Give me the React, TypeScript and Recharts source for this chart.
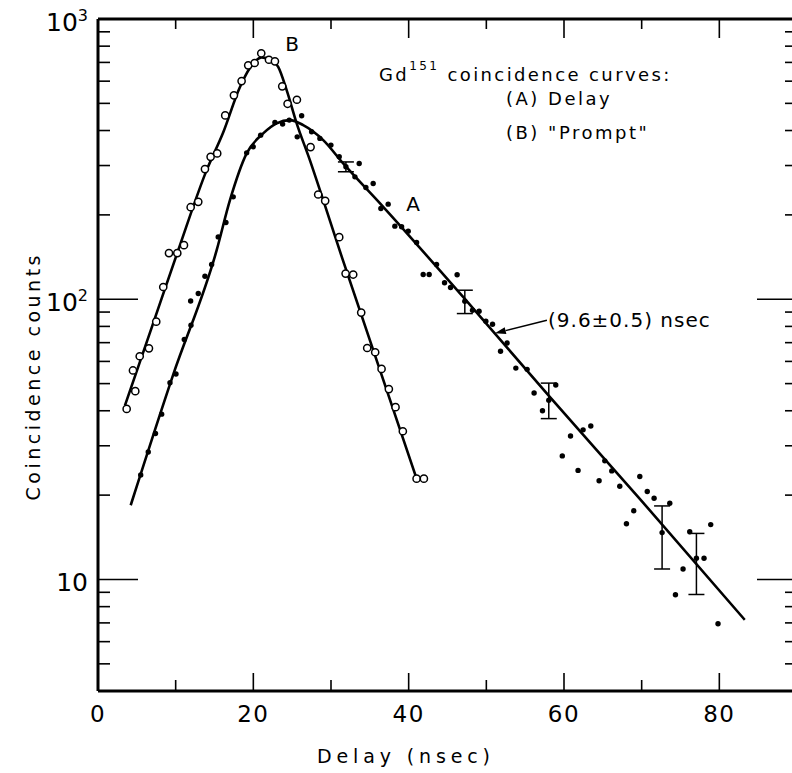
import React from 'react';
import {
  ComposedChart,
  Scatter,
  Line,
  XAxis,
  YAxis,
  ErrorBar,
  ReferenceLine,
  Customized
} from 'recharts';

const FONT = '"DejaVu Sans", sans-serif';

// curve B ("Prompt"), open circles
const promptX = [3.69, 4.80, 4.50, 5.37, 6.56, 7.50, 8.40, 9.14, 10.21, 11.07, 11.93, 12.91, 13.77, 14.50, 15.35, 16.38, 17.50, 18.49, 19.34, 20.17, 21.02, 22.01, 22.78, 23.72, 24.41, 25.61, 27.37, 28.35, 29.25, 31.06, 31.88, 32.86, 33.89, 34.66, 35.69, 36.51, 37.45, 38.31, 39.25, 41.02, 41.96];
const promptY = [40.6, 47.0, 55.7, 62.6, 66.8, 83.2, 110.6, 146, 146, 155.9, 213, 222.6, 291.3, 322.3, 331.4, 453, 534, 600.5, 683.4, 696.5, 754.5, 715.6, 706.3, 575, 498.3, 515, 349, 236.5, 224.4, 166.5, 123.5, 122.5, 89.6, 67.0, 64.7, 56.4, 47.8, 41.2, 33.8, 22.9, 22.9];

// curve A (Delay), filled dots
const delayX = [5.50, 6.47, 7.40, 8.20, 9.27, 10.04, 11.11, 11.97, 11.93, 12.91, 13.77, 14.63, 15.48, 16.47, 17.41, 19.14, 19.99, 20.94, 22.78, 23.77, 24.62, 25.65, 26.22, 27.50, 28.57, 29.99, 31.06, 33.63, 33.08, 34.49, 35.43, 36.42, 37.36, 38.22, 39.09, 39.94, 41.02, 41.87, 42.64, 43.59, 44.62, 45.39, 46.24, 48.22, 49.07, 49.94, 50.80, 51.83, 52.68, 53.80, 55.25, 56.15, 57.23, 58.94, 59.78, 60.84, 61.81, 62.46, 63.45, 64.52, 65.25, 66.15, 67.18, 68.04, 68.98, 69.76, 70.72, 71.60, 73.62, 74.35, 75.33, 76.19, 78.03, 78.89, 79.83];
const delayY = [23.6, 28.5, 33.2, 38.9, 50.4, 54.1, 71.8, 80.8, 98.6, 104.8, 120.8, 133.0, 166.9, 187.9, 231.9, 333, 349.9, 385.1, 427.6, 421.7, 435.8, 379.8, 451.5, 395.8, 374.9, 354.8, 322.3, 305.2, 273.4, 250.6, 258.9, 210.8, 218.4, 182.3, 181.5, 175, 159.4, 122.6, 122.6, 133.1, 114.5, 110.1, 122.3, 91.3, 90.6, 83.5, 81.4, 65.2, 69.8, 56.8, 56.2, 46.3, 40.0, 49.4, 27.6, 32.5, 24.5, 34.2, 35.3, 22.5, 26.5, 24.4, 21.5, 15.8, 17.6, 23.3, 20.6, 19.5, 18.7, 8.82, 10.9, 14.8, 11.9, 15.7, 6.95];

// curve A points with error bars
const errX = [31.92, 47.23, 58.04, 72.63, 77.05];
const errY = [297, 98.4, 43.6, 14.7, 11.9];
const errLo = [285, 88.9, 37.5, 10.9, 8.84];
const errHi = [309, 107.7, 50.2, 18.3, 14.6];

// drawn curves
const fitAX = [4.21, 9.65, 15.28, 16.99, 19.14, 21.27, 23.0, 24.71, 26.42, 29.0, 31.57, 36.72, 47.01, 58.17, 69.76, 83.27];
const fitAY = [18.4, 53.5, 149.6, 225.7, 331.4, 390.6, 424.1, 435.8, 418.2, 369.8, 305.2, 213.6, 101.9, 44.8, 19.4, 7.18];
const fitBX = [3.47, 7.0, 10.33, 13.99, 16.09, 18.28, 19.56, 21.07, 22.36, 23.2, 24.29, 25.57, 27.28, 29.0, 31.53, 41.02];
const fitBY = [41.8, 80.5, 149.6, 288.9, 391.6, 571.8, 668, 729.8, 713.8, 675.4, 557.8, 425.2, 313.6, 225.7, 137.8, 22.9];

const xTicks = [0, 10, 20, 30, 40, 50, 60, 70, 80];
const yTicks = [5, 6, 7, 8, 9, 10, 20, 30, 40, 50, 60, 70, 80, 90, 100, 200, 300, 400, 500, 600, 700, 800, 900, 1000];

// arrow for the slope label
const arrowFrom = { x: 57.8, y: 84.1 };
const arrowTo = { x: 51.1, y: 75.6 };

const promptData = promptX.map((x, i) => ({ x, y: promptY[i] }));
const delayData = delayX.map((x, i) => ({ x, y: delayY[i] }));
const errData = errX.map((x, i) => ({ x, y: errY[i], err: [errY[i] - errLo[i], errHi[i] - errY[i]] }));
const fitA = fitAX.map((x, i) => ({ x, y: fitAY[i] }));
const fitB = fitBX.map((x, i) => ({ x, y: fitBY[i] }));

const BottomTick = (p: any) => {
  const v = p.payload.value;
  const major = v % 20 === 0;
  return (
    <g>
      {v > 0 && <line x1={p.x} x2={p.x} y1={p.y} y2={p.y - (major ? 18 : 11)} stroke="#000" strokeWidth={1.6} />}
      {major && (
        <text x={p.x} y={p.y + 31} textAnchor="middle" fontSize={23} fontFamily={FONT} letterSpacing={1.5} fill="#000">
          {v}
        </text>
      )}
    </g>
  );
};

const TopTick = (p: any) => {
  const v = p.payload.value;
  if (v === 0) return <g />;
  const major = v % 20 === 0;
  return <line x1={p.x} x2={p.x} y1={p.y} y2={p.y + (major ? 19 : 10)} stroke="#000" strokeWidth={1.6} />;
};

const LeftTick = (p: any) => {
  const v = p.payload.value;
  const major = v === 10 || v === 100;
  const exp = v === 1000 ? '3' : v === 100 ? '2' : null;
  return (
    <g>
      {v < 1000 && <line x1={p.x} x2={p.x + (major ? 40 : 12)} y1={p.y} y2={p.y} stroke="#000" strokeWidth={1.6} />}
      {(v === 10 || v === 100 || v === 1000) && (
        <text x={p.x - 10} y={p.y + 12} textAnchor="end" fontSize={25} fontFamily={FONT} fill="#000">
          10
          {exp && <tspan fontSize={16} dy={-10}>{exp}</tspan>}
        </text>
      )}
    </g>
  );
};

const RightTick = (p: any) => {
  const v = p.payload.value;
  if (v === 1000) return <g />;
  const major = v === 10 || v === 100;
  return <line x1={p.x} x2={p.x - (major ? 40 : 12)} y1={p.y} y2={p.y} stroke="#000" strokeWidth={1.6} />;
};

const OpenCircle = (p: any) => (
  <circle cx={p.cx} cy={p.cy} r={3.6} fill="#fff" stroke="#000" strokeWidth={1.5} />
);

const Dot = (p: any) => <circle cx={p.cx} cy={p.cy} r={2.7} fill="#000" />;

const Arrow = (p: any) => {
  const { x1, y1, x2, y2 } = p;
  const a = Math.atan2(y2 - y1, x2 - x1);
  const L = 11;
  const W = 3.5;
  const bx = x2 - L * Math.cos(a);
  const by = y2 - L * Math.sin(a);
  const px = -Math.sin(a) * W;
  const py = Math.cos(a) * W;
  return (
    <g>
      <line x1={x1} y1={y1} x2={bx} y2={by} stroke="#000" strokeWidth={1.5} />
      <path d={`M${x2},${y2} L${bx + px},${by + py} L${bx - px},${by - py} Z`} fill="#000" />
    </g>
  );
};

const Annotations = () => (
  <g fontFamily={FONT} fill="#000">
    <text x={292} y={51} textAnchor="middle" fontSize={20}>B</text>
    <text x={413} y={211} textAnchor="middle" fontSize={20}>A</text>
    <text x={379} y={81} fontSize={18} letterSpacing={2.4}>
      Gd
      <tspan fontSize={12} dy={-11}>151</tspan>
      <tspan dy={11}> coincidence curves:</tspan>
    </text>
    <text x={506} y={105} fontSize={18} letterSpacing={2.5}>(A) Delay</text>
    <text x={506} y={139} fontSize={18} letterSpacing={2.5}>(B) "Prompt"</text>
    <text x={548} y={327} fontSize={20} letterSpacing={1}>(9.6±0.5) nsec</text>
    <text x={317} y={763} fontSize={19} textLength={173} lengthAdjust="spacing">Delay  (nsec)</text>
    <text
      x={40}
      y={378}
      fontSize={19}
      textAnchor="middle"
      transform="rotate(-90 40 378)"
      textLength={245}
      lengthAdjust="spacing"
    >
      Coincidence  counts
    </text>
  </g>
);

export default function App() {
  return (
    <div style={{ position: 'absolute', left: 0, top: 0, width: 792, height: 773, overflow: 'hidden', background: '#fff' }}>
      <ComposedChart width={800} height={773} margin={{ top: 18, right: 2, bottom: 81, left: 97 }}>
        <XAxis
          xAxisId="b"
          type="number"
          dataKey="x"
          domain={[0, 90]}
          ticks={xTicks}
          interval={0}
          allowDataOverflow
          height={1}
          tickSize={0}
          tickMargin={0}
          tickLine={false}
          axisLine={{ stroke: '#000', strokeWidth: 3 }}
          tick={BottomTick}
        />
        <XAxis
          xAxisId="t"
          orientation="top"
          type="number"
          dataKey="x"
          domain={[0, 90]}
          ticks={xTicks}
          interval={0}
          allowDataOverflow
          height={1}
          tickSize={0}
          tickMargin={0}
          tickLine={false}
          axisLine={{ stroke: '#000', strokeWidth: 3 }}
          tick={TopTick}
        />
        <YAxis
          yAxisId="l"
          type="number"
          dataKey="y"
          scale="log"
          domain={[4, 1000]}
          ticks={yTicks}
          interval={0}
          allowDataOverflow
          width={1}
          tickSize={0}
          tickMargin={0}
          tickLine={false}
          axisLine={{ stroke: '#000', strokeWidth: 3 }}
          tick={LeftTick}
        />
        <YAxis
          yAxisId="r"
          orientation="right"
          type="number"
          dataKey="y"
          scale="log"
          domain={[4, 1000]}
          ticks={yTicks}
          interval={0}
          allowDataOverflow
          width={1}
          tickSize={0}
          tickMargin={0}
          tickLine={false}
          axisLine={{ stroke: '#000', strokeWidth: 2 }}
          tick={RightTick}
        />
        <Line
          xAxisId="b"
          yAxisId="l"
          data={fitB}
          dataKey="y"
          type="monotone"
          stroke="#000"
          strokeWidth={2.6}
          dot={false}
          activeDot={false}
          isAnimationActive={false}
        />
        <Line
          xAxisId="b"
          yAxisId="l"
          data={fitA}
          dataKey="y"
          type="monotone"
          stroke="#000"
          strokeWidth={2.6}
          dot={false}
          activeDot={false}
          isAnimationActive={false}
        />
        <Scatter xAxisId="b" yAxisId="l" data={promptData} shape={OpenCircle} isAnimationActive={false} />
        <Scatter xAxisId="b" yAxisId="l" data={delayData} shape={Dot} isAnimationActive={false} />
        <Scatter xAxisId="b" yAxisId="l" data={errData} shape={Dot} isAnimationActive={false}>
          <ErrorBar dataKey="err" direction="y" width={8} stroke="#000" strokeWidth={1.5} isAnimationActive={false} />
        </Scatter>
        <ReferenceLine
          xAxisId="b"
          yAxisId="l"
          segment={[arrowFrom, arrowTo]}
          shape={Arrow}
          ifOverflow="visible"
        />
        <Customized component={Annotations} />
      </ComposedChart>
    </div>
  );
}
